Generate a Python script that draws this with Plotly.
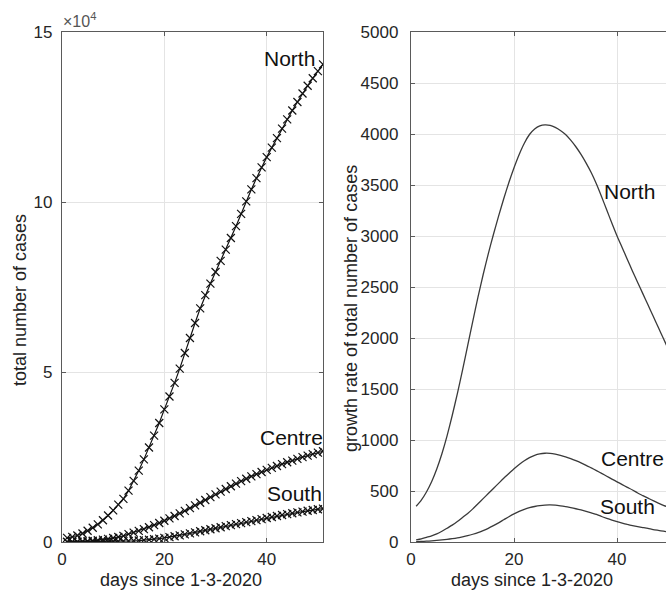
import plotly.graph_objects as go

days = list(range(1, 52))

north_total = [1200, 1500, 1900, 2500, 3300, 4200, 5200, 6400, 7800, 9300,
               11000, 12700, 15100, 18000, 21000, 24300, 27800, 31300, 35000, 39000,
               42800, 46800, 51000, 55600, 60000, 64400, 68700, 72600, 76000, 79400,
               82700, 86000, 89400, 92900, 96500, 100200, 103700, 107000, 110200, 113200,
               116000, 118800, 121600, 124300, 126900, 129400, 131900, 134200, 136400, 138500, 140500]
centre_total = [50, 80, 120, 180, 260, 370, 510, 700, 920, 1180,
                1480, 1800, 2300, 2750, 3250, 3800, 4350, 4950, 5600, 6250,
                6950, 7650, 8400, 9150, 9950, 10750, 11550, 12350, 13200, 14000,
                14800, 15600, 16400, 17150, 17900, 18600, 19300, 19950, 20600, 21200,
                21800, 22350, 22900, 23450, 23950, 24450, 24950, 25400, 25850, 26300, 26700]
south_total = [30, 40, 50, 60, 75, 90, 110, 130, 155, 180,
               210, 250, 300, 360, 430, 530, 660, 820, 1000, 1200,
               1420, 1680, 1950, 2250, 2550, 2850, 3150, 3450, 3750, 4050,
               4350, 4650, 4950, 5250, 5550, 5850, 6150, 6450, 6750, 7050,
               7350, 7650, 7930, 8200, 8460, 8710, 8950, 9180, 9400, 9620, 9830]

north_rate = [350, 410, 490, 590, 715, 865, 1040, 1240, 1455, 1685,
              1925, 2165, 2400, 2620, 2825, 3015, 3195, 3365, 3525, 3670,
              3800, 3910, 3995, 4050, 4080, 4090, 4085, 4065, 4035, 3995,
              3940, 3875, 3800, 3715, 3620, 3510, 3385, 3255, 3125, 3000,
              2885, 2770, 2655, 2545, 2435, 2325, 2215, 2105, 1995, 1885, 1775]
centre_rate = [20, 30, 45, 60, 80, 105, 135, 165, 200, 240,
               280, 325, 375, 425, 475, 525, 575, 625, 672, 718,
               760, 797, 827, 850, 864, 870, 869, 862, 850, 835,
               818, 798, 776, 752, 726, 700, 673, 645, 617, 590,
               563, 536, 510, 480, 455, 430, 405, 382, 360, 340, 320]
south_rate = [3, 5, 8, 11, 15, 20, 26, 33, 41, 51,
              62, 76, 92, 112, 134, 160, 188, 218, 248, 276,
              300, 320, 336, 348, 357, 362, 363, 361, 355, 347,
              337, 326, 314, 300, 285, 270, 250, 232, 215, 199,
              185, 172, 161, 151, 142, 133, 122, 114, 106, 99, 93]

left_ytickvals = [0, 50000, 100000, 150000]
left_yticktext = ["0", "5", "10", "15"]
region_names = ["North", "Centre", "South"]

FONT = "Liberation Sans, Arial, Helvetica, sans-serif"
W, H = 666, 592
ML, MR, MT, MB = 62, 0, 32, 50
PW, PH = W - ML - MR, H - MT - MB


def px(xp, yp):
    return (xp - ML) / PW, (H - MB - yp) / PH


fig = go.Figure()

for tot in [north_total, centre_total, south_total]:
    fig.add_trace(go.Scatter(
        x=days, y=tot, mode="lines+markers", xaxis="x", yaxis="y",
        line=dict(color="#111111", width=1.2),
        marker=dict(symbol="x-thin", size=8, line=dict(color="#111111", width=1.2)),
        showlegend=False, hoverinfo="skip"))

for rate in [north_rate, centre_rate, south_rate]:
    fig.add_trace(go.Scatter(
        x=days, y=rate, mode="lines", xaxis="x2", yaxis="y2",
        line=dict(color="#3a3a3a", width=1.3, shape="spline", smoothing=0.6),
        showlegend=False, hoverinfo="skip"))

axis_common = dict(
    showline=True, linecolor="#5a5a5a", linewidth=1.4,
    ticks="inside", ticklen=4, tickcolor="#5a5a5a", tickwidth=1,
    showgrid=True, gridcolor="#e4e4e4", gridwidth=1,
    zeroline=False,
    tickfont=dict(family=FONT, size=17, color="#262626"),
)

x1_end = (323 - ML) / PW
x2_start = (411 - ML) / PW

fig.update_layout(
    width=W, height=H,
    margin=dict(l=ML, r=MR, t=MT, b=MB),
    paper_bgcolor="white", plot_bgcolor="white",
    font=dict(family=FONT, color="#222222"),
    xaxis=dict(domain=[0, x1_end], range=[0, 51], dtick=20, tick0=0, mirror="ticks",
               anchor="y", ticklabelstandoff=1, **axis_common),
    yaxis=dict(domain=[0, 1], range=[0, 150000], tickvals=left_ytickvals,
               ticktext=left_yticktext, mirror="ticks", anchor="x",
               ticklabelstandoff=5, **axis_common),
    xaxis2=dict(domain=[x2_start, 1], range=[0, 49.5], dtick=20, tick0=0, mirror="ticks",
                anchor="y2", ticklabelstandoff=1, **axis_common),
    yaxis2=dict(domain=[0, 1], range=[0, 5000], dtick=500, mirror=False, anchor="x2",
                ticklabelstandoff=8, **axis_common),
)

annotations = []


def add_text(text, xp, yp, size, angle=0, color="#111111", xanchor="center"):
    x, y = px(xp, yp)
    annotations.append(dict(
        text=text, x=x, y=y, xref="paper", yref="paper", showarrow=False,
        xanchor=xanchor, yanchor="middle", textangle=angle,
        font=dict(family=FONT, size=size, color=color)))


# region labels, left panel
add_text(region_names[0], 289.5, 58.5, 21)
add_text(region_names[1], 291.5, 437.5, 21)
add_text(region_names[2], 294.5, 493, 21)
# region labels, right panel
add_text(region_names[0], 629, 191.5, 21)
add_text(region_names[1], 632.5, 458.5, 21)
add_text(region_names[2], 627, 506.5, 21)

# axis titles
add_text("days since 1-3-2020", 181, 580, 18, color="#222222")
add_text("days since 1-3-2020", 532, 580, 18, color="#222222")
add_text("total number of cases", 20, 300, 18, angle=-90, color="#222222")
add_text("growth rate of total number of cases", 351, 309, 18, angle=-90, color="#222222")

# exponent label
add_text("×10<sup>4</sup>", 61, 20, 16, color="#555555", xanchor="left")

fig.update_layout(annotations=annotations)

fig.write_html("out.html", config={"displayModeBar": False},
               post_script="document.body.style.margin='0px';")
